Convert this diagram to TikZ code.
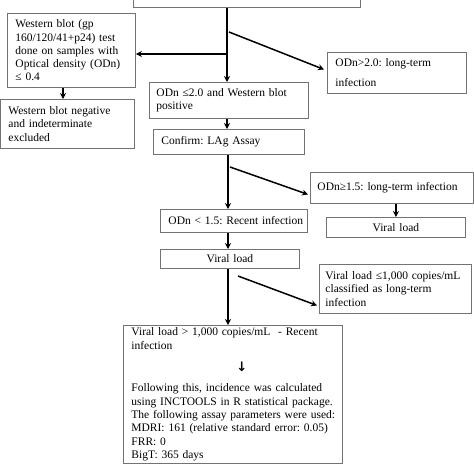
\documentclass[tikz,border=0pt]{standalone}
\usepackage{fontspec}
\setmainfont{Liberation Serif}
\newfontfamily\arrowfont{DejaVu Sans}
\usetikzlibrary{arrows.meta}
\frenchspacing
\newcommand{\tl}[1]{\mbox{#1}}
\begin{document}
\begin{tikzpicture}[x=1pt,y=1pt,
  box/.style={draw=black!55, line width=0.9pt, anchor=north west, align=left,
    font=\fontsize{11.5}{13.3}\selectfont\frenchspacing, inner ysep=1pt},
  cbox/.style={box, align=center},
  arr/.style={draw=black, line width=1.5pt, -{Stealth[length=6pt,width=6pt]}}]
\useasboundingbox (0,0) rectangle (474,-474);
\fill[white] (0,0) rectangle (474,-474);
% boxes
\node[box, minimum width=227, minimum height=27] (top) at (133,20) {};
\node[box, minimum width=128, minimum height=74, inner xsep=8, text width=112] (wb) at (7,-13)
  {\tl{Western blot (gp}\\\tl{160/120/41+p24) test}\\\tl{done on samples with}\\\tl{Optical density (ODn)}\\\tl{≤ 0.4}};
\node[box, minimum width=134, minimum height=49, inner xsep=8, text width=118] (excl) at (0,-99)
  {\tl{Western blot negative}\\\tl{and indeterminate}\\\tl{excluded}};
\node[box, minimum width=139, minimum height=41, inner xsep=8, text width=123] (gt2) at (327,-52)
  {\tl{ODn>2.0: long-term}\\[6.7pt]\tl{infection}};
\node[box, minimum width=159, minimum height=36, inner xsep=7, text width=145] (le2) at (149,-82)
  {\tl{ODn ≤2.0 and Western blot}\\\tl{positive}};
\node[box, minimum width=151, minimum height=25, inner xsep=8, text width=135] (conf) at (153,-129)
  {\tl{Confirm: LAg Assay}};
\node[box, minimum width=147, minimum height=23, inner xsep=8, text width=131] (lt15) at (160,-209)
  {\tl{ODn < 1.5: Recent infection}};
\node[box, minimum width=163, minimum height=31, inner xsep=7, text width=149] (ge15) at (310,-172)
  {\tl{ODn≥1.5: long-term infection}};
\node[cbox, minimum width=139, minimum height=20, text width=131] (vlr) at (326,-217) {Viral load};
\node[cbox, minimum width=139, minimum height=19, text width=131] (vl) at (160,-249) {Viral load};
\node[box, minimum width=152, minimum height=49, inner xsep=6, text width=140] (vlle) at (319,-264)
  {\tl{Viral load ≤1,000 copies/mL}\\\tl{classified as long-term}\\\tl{infection}};
\node[box, minimum width=219, inner xsep=8, text width=203, inner ysep=2.5pt] (final) at (123,-325)
  {\tl{Viral load > 1,000 copies/mL \ - Recent}\\\tl{infection}\\[9pt]
   \tl{\hspace{105pt}{\arrowfont\fontsize{13}{13}\selectfont\bfseries ↓}}\\[7pt]
   \tl{Following this, incidence was calculated}\\\tl{using INCTOOLS in R statistical package.}\\
   \tl{The following assay parameters were used:}\\\tl{MDRI: 161 (relative standard error: 0.05)}\\
   \tl{FRR: 0}\\\tl{BigT: 365 days}\\[20pt]};
% helper coordinates
\coordinate (mx) at (227,0);
\coordinate (b1) at (227,-54);
\coordinate (d1) at (229,-32);
\coordinate (d2) at (230,-167);
\coordinate (d3) at (238,-276);
\coordinate (wx) at (63,0);
\coordinate (lx) at (228,0);
% connectors
\draw[arr] (top.south -| mx) -- (le2.north -| mx);
\draw[arr] (b1) -- (wb.east |- b1);
\draw[arr] (d1) -- ([xshift=-3pt,yshift=3.5pt]gt2.west);
\draw[arr] (wb.south -| wx) -- (excl.north -| wx);
\draw[arr] (le2.south -| mx) -- (conf.north -| mx);
\draw[arr] (conf.south -| lx) -- (lt15.north -| lx);
\draw[arr] (d2) -- ([xshift=-2pt,yshift=-6.5pt]ge15.west);
\draw[arr] (ge15.south -| vlr) -- (vlr.north);
\draw[arr] (lt15.south -| lx) -- (vl.north -| lx);
\draw[arr] (vl.south -| lx) -- (final.north -| lx);
\draw[arr] (d3) -- ([xshift=-2pt,yshift=-16.5pt]vlle.west);
\end{tikzpicture}
\end{document}
